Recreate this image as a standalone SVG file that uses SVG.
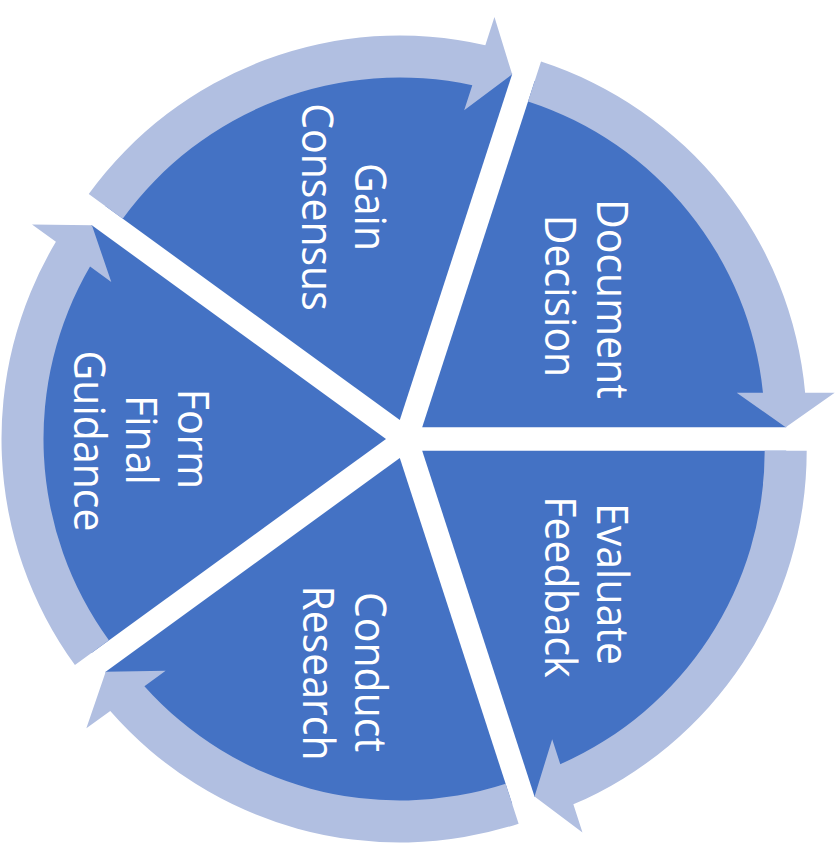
<svg xmlns="http://www.w3.org/2000/svg" xmlns:xlink="http://www.w3.org/1999/xlink" width="836" height="845" viewBox="0 0 836 845">
  <style>
    .wedge { fill: #4472C4; }
    .arrow { fill: #B1BFE1; }
    .lbl { font-family: "Open Sans", "Noto Sans", "Liberation Sans", sans-serif; font-size: 41px; fill: #FFFFFF; text-anchor: middle; }
  </style>
  <defs>
    <path id="wedge" d="M0,0 L364,0 A364,364 0 0 0 112.48,-346.18 Z"/>
    <path id="arrow" d="M118.82,-365.68 A384.5,384.5 0 0 1 382.95,-34.5 L412.5,-34.5 L363.5,0 L314.5,-34.5 L340.76,-34.5 A342.5,342.5 0 0 0 105.84,-325.74 Z"/>
  </defs>
  <rect width="836" height="845" fill="#FFFFFF"/>

  <g id="node-document-decision">
    <use href="#wedge" class="wedge" transform="translate(422.2,427.2)"/>
    <text class="lbl" transform="translate(597,299) rotate(90) scale(1,1.06)">Document</text>
    <text class="lbl" transform="translate(545,296) rotate(90) scale(1,1.06)">Decision</text>
  </g>
  <g id="node-gain-consensus">
    <use href="#wedge" class="wedge" transform="translate(399.8,420) rotate(-72)"/>
    <text class="lbl" transform="translate(355,207) rotate(90) scale(1,1.06)">Gain</text>
    <text class="lbl" transform="translate(302,207) rotate(90) scale(1,1.06)">Consensus</text>
  </g>
  <g id="node-form-final-guidance">
    <use href="#wedge" class="wedge" transform="translate(386,439) rotate(-144)"/>
    <text class="lbl" transform="translate(178,439) rotate(90) scale(1,1.06)">Form</text>
    <text class="lbl" transform="translate(126,440) rotate(90) scale(1,1.06)">Final</text>
    <text class="lbl" transform="translate(74,441) rotate(90) scale(1,1.06)">Guidance</text>
  </g>
  <g id="node-conduct-research">
    <use href="#wedge" class="wedge" transform="translate(399.8,458) rotate(-216)"/>
    <text class="lbl" transform="translate(355,672) rotate(90) scale(1,1.06)">Conduct</text>
    <text class="lbl" transform="translate(303,673) rotate(90) scale(1,1.06)">Research</text>
  </g>
  <g id="node-evaluate-feedback">
    <use href="#wedge" class="wedge" transform="translate(422.2,450.8) rotate(-288)"/>
    <text class="lbl" transform="translate(597,584) rotate(90) scale(1,1.06)">Evaluate</text>
    <text class="lbl" transform="translate(545,587) rotate(90) scale(1,1.06)">Feedback</text>
  </g>

  <g id="connectors">
    <use href="#arrow" class="arrow" transform="translate(422.2,427.2)"/>
    <use href="#arrow" class="arrow" transform="translate(399.8,420) rotate(-72)"/>
    <use href="#arrow" class="arrow" transform="translate(386,439) rotate(-144)"/>
    <use href="#arrow" class="arrow" transform="translate(399.8,458) rotate(-216)"/>
    <use href="#arrow" class="arrow" transform="translate(422.2,450.8) rotate(-288)"/>
  </g>
</svg>
